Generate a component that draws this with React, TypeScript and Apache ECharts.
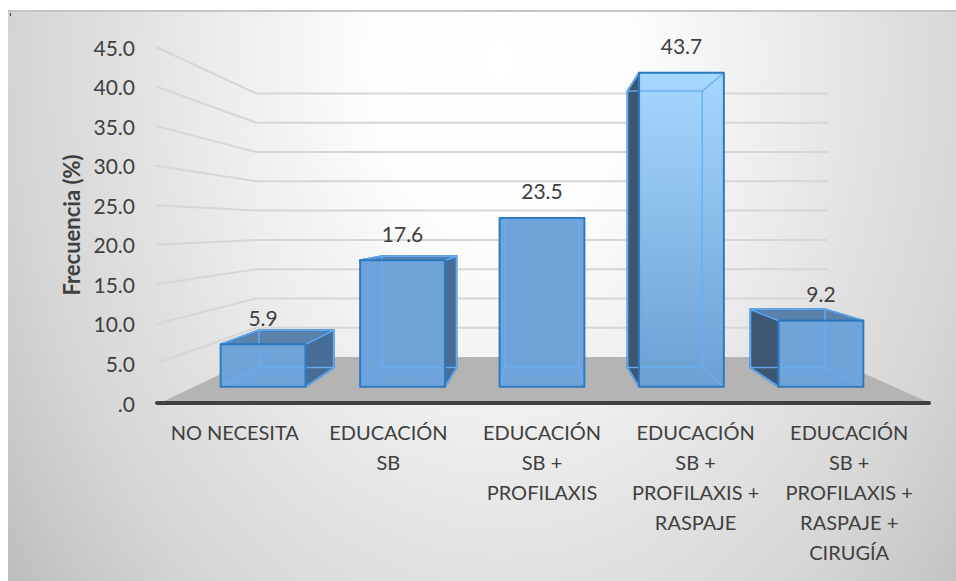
import React, { useEffect, useRef } from "react";
import * as echarts from "echarts";

const categories = [
  "NO NECESITA",
  "EDUCACIÓN\nSB",
  "EDUCACIÓN\nSB +\nPROFILAXIS",
  "EDUCACIÓN\nSB +\nPROFILAXIS +\nRASPAJE",
  "EDUCACIÓN\nSB +\nPROFILAXIS +\nRASPAJE +\nCIRUGÍA",
];
const frecuencia = [5.9, 17.6, 23.5, 43.7, 9.2];
const yTicks = [5, 10, 15, 20, 25, 30, 35, 40, 45];
const highlighted = 3;

const FONT = "Lato";
const VP = { x: 542, y: 226 };
const S_FRONT = 0.908;
const S_BACK = 0.8;
const S_WALL = 0.74;
const BAR_RATIO = 0.608;
const EDGE = "#2f7abf";

const proj = (x: number, y: number, s: number) => [VP.x + (x - VP.x) * s, VP.y + (y - VP.y) * s];

const renderWall = (params: any, api: any) => {
  const c = params.coordSys;
  const y = api.coord([0, api.value(1)])[1];
  const start = [c.x - 2, y];
  const corner = proj(c.x - 2, y, S_WALL);
  const end = proj(c.x + c.width + 2, y, S_WALL);
  return {
    type: "polyline",
    shape: { points: [start, corner, end] },
    style: { fill: "none", stroke: "#d6d6d6", lineWidth: 2 },
    silent: true,
  };
};

const renderFloor = (params: any, api: any) => {
  const c = params.coordSys;
  const y = api.coord([0, 0])[1];
  return {
    type: "group",
    silent: true,
    children: [
      {
        type: "polygon",
        shape: {
          points: [
            [c.x + 2, y],
            proj(c.x - 2, y, S_WALL),
            proj(c.x + c.width + 2, y, S_WALL),
            [c.x + c.width + 4, y],
          ],
        },
        style: { fill: "#b4b4b4" },
      },
      {
        type: "line",
        shape: { x1: c.x - 1, y1: y, x2: c.x + c.width + 3, y2: y },
        style: { stroke: "#404040", lineWidth: 4, lineCap: "round" },
      },
    ],
  };
};

const renderBar = (params: any, api: any) => {
  const idx = api.value(0);
  const val = api.value(1);
  const [cx, top] = api.coord([idx, val]);
  const base = api.coord([idx, 0])[1];
  const half = (api.size([1, 0])[0] * BAR_RATIO) / 2;
  const L = cx - half;
  const R = cx + half;
  const fTL = proj(L, top, S_FRONT);
  const fTR = proj(R, top, S_FRONT);
  const fBL = proj(L, base, S_FRONT);
  const fBR = proj(R, base, S_FRONT);
  const bTL = proj(L, top, S_BACK);
  const bTR = proj(R, top, S_BACK);
  const bBL = proj(L, base, S_BACK);
  const bBR = proj(R, base, S_BACK);
  const outer = { stroke: EDGE, lineWidth: 2, lineJoin: "round" };
  const children: any[] = [];
  if (bTL[1] < fTL[1] - 1) {
    children.push({ type: "polygon", shape: { points: [bTL, bTR, fTR, fTL] }, style: { fill: "#5a82aa", ...outer } });
  }
  if (bTR[0] > fTR[0] + 1) {
    children.push({ type: "polygon", shape: { points: [fTR, bTR, bBR, fBR] }, style: { fill: "#486d94", ...outer } });
  }
  if (bTL[0] < fTL[0] - 1) {
    children.push({ type: "polygon", shape: { points: [bTL, fTL, fBL, bBL] }, style: { fill: "#3d5773", ...outer } });
  }
  const frontFill =
    idx === highlighted
      ? {
          type: "linear",
          x: 0,
          y: 0,
          x2: 0,
          y2: 1,
          colorStops: [
            { offset: 0, color: "#a6d7ff" },
            { offset: 1, color: "#6c9fd3" },
          ],
        }
      : "#6ea4d9";
  children.push({ type: "polygon", shape: { points: [fTL, fTR, fBR, fBL] }, style: { fill: frontFill } });
  const inner = { stroke: "rgba(104,174,244,0.9)", lineWidth: 1.5, fill: "none" };
  children.push({ type: "polygon", shape: { points: [bTL, bTR, bBR, bBL] }, style: inner });
  [
    [fTL, bTL],
    [fTR, bTR],
    [fBL, bBL],
    [fBR, bBR],
  ].forEach(([a, b]) => {
    children.push({ type: "polyline", shape: { points: [a, b] }, style: inner });
  });
  children.push({ type: "polygon", shape: { points: [fTL, fTR, fBR, fBL] }, style: { fill: "none", ...outer } });
  children.push({
    type: "text",
    style: {
      text: val.toFixed(1),
      x: cx * S_FRONT + VP.x * (1 - S_FRONT),
      y: fTL[1] - 27,
      align: "center",
      verticalAlign: "middle",
      fill: "#404040",
      font: `21px ${FONT}`,
    },
  });
  return { type: "group", children };
};

export default function App() {
  const ref = useRef<HTMLDivElement>(null);
  useEffect(() => {
    document.body.style.margin = "0";
    const chart = echarts.init(ref.current!, undefined, { renderer: "svg" });
    chart.setOption({
      animation: false,
      backgroundColor: "#ffffff",
      textStyle: { fontFamily: FONT },
      graphic: [
        {
          type: "rect",
          z: -10,
          silent: true,
          shape: { x: 8, y: -590, width: 948, height: 1300 },
          style: {
            fill: {
              type: "radial",
              x: 0.52,
              y: 0.5,
              r: 0.7,
              colorStops: [
                { offset: 0, color: "#ffffff" },
                { offset: 0.2, color: "#fdfdfd" },
                { offset: 0.4, color: "#eeeeee" },
                { offset: 0.55, color: "#e2e2e2" },
                { offset: 0.72, color: "#d6d6d6" },
                { offset: 0.85, color: "#c8c8c8" },
                { offset: 1, color: "#b4b4b4" },
              ],
            },
          },
        },
        { type: "rect", z: -9, silent: true, shape: { x: 0, y: 0, width: 956, height: 11 }, style: { fill: "#ffffff" } },
        { type: "rect", z: -9, silent: true, shape: { x: 8, y: 10, width: 948, height: 2 }, style: { fill: "#c4c4c4" } },
        { type: "rect", z: -9, silent: true, shape: { x: 10, y: 13, width: 1, height: 3 }, style: { fill: "#333333" } },
      ],
      grid: { left: 158, width: 768, top: 47, height: 356 },
      xAxis: {
        type: "category",
        data: categories,
        axisTick: { show: false },
        axisLine: { show: false },
        axisLabel: {
          interval: 0,
          color: "#404040",
          fontFamily: FONT,
          fontSize: 20,
          lineHeight: 30,
          margin: 14,
          align: "center",
        },
      },
      yAxis: {
        type: "value",
        min: 0,
        max: 45,
        interval: 5,
        splitLine: { show: false },
        axisLine: { show: false },
        axisTick: { show: false },
        axisLabel: {
          color: "#404040",
          fontFamily: FONT,
          fontSize: 21,
          margin: 23,
          formatter: (v: number) => (v === 0 ? ".0" : v.toFixed(1)),
        },
        name: "Frecuencia (%)",
        nameLocation: "middle",
        nameGap: 76,
        nameTextStyle: { color: "#404040", fontFamily: FONT, fontSize: 22, fontWeight: "bold" },
      },
      series: [
        {
          type: "custom",
          name: "Piso",
          renderItem: renderFloor,
          data: [[0, 0]],
          encode: { x: 0, y: 1 },
          clip: false,
          silent: true,
          z: 1,
        },
        {
          type: "custom",
          name: "Rejilla",
          renderItem: renderWall,
          data: yTicks.map((t) => [0, t]),
          encode: { x: 0, y: 1 },
          clip: false,
          silent: true,
          z: 2,
        },
        {
          type: "custom",
          name: "Frecuencia",
          renderItem: renderBar,
          data: frecuencia.map((v, i) => [i, v]),
          encode: { x: 0, y: 1 },
          clip: false,
          z: 3,
        },
      ],
    });
    return () => chart.dispose();
  }, []);
  return <div ref={ref} style={{ width: 956, height: 581 }} />;
}
